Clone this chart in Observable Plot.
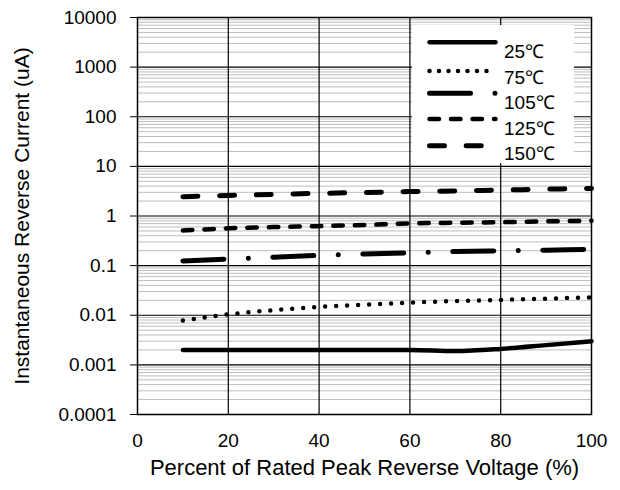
<!DOCTYPE html>
<html><head><meta charset="utf-8">
<script src="https://cdn.jsdelivr.net/npm/d3@7"></script>
<script src="https://cdn.jsdelivr.net/npm/@observablehq/plot@0.6"></script>
<style>
body{margin:0;background:#fff;font-family:"Liberation Sans",Arial,sans-serif;}
#wrap{position:relative;width:620px;height:490px;}
#wrap svg text{font-family:"Liberation Sans",Arial,sans-serif;}
#legend{position:absolute;left:0;top:0;pointer-events:none;}
</style></head><body><div id="wrap"></div>
<script>
const voltage = [10,20,30,40,50,60,70,80,90,100];
const i25  = [0.002,0.002,0.002,0.002,0.002,0.002,0.0019,0.0021,0.0025,0.003];
const i75  = [0.0078,0.0104,0.0127,0.0147,0.0163,0.018,0.0193,0.0204,0.0216,0.0228];
const i105 = [0.124,0.136,0.148,0.161,0.172,0.182,0.192,0.198,0.205,0.212];
const i125 = [0.51,0.565,0.6,0.625,0.66,0.71,0.73,0.75,0.78,0.8];
const i150 = [2.44,2.6,2.72,2.86,2.98,3.1,3.2,3.33,3.47,3.6];
const seriesNames = ["25℃","75℃","105℃","125℃","150℃"];
const seriesValues = [i25,i75,i105,i125,i150];
const seriesDash = [null,"0 11","41 24.5 0 24.5","9.5 12","15 21.7"];
const legendDash = [null,"0 9.5","41 24.5 0 24.5","9.5 12","15 21.7"];
const seriesWidth = [4.5,4.5,5,4.5,5];
const yTicks = [0.0001,0.001,0.01,0.1,1,10,100,1000,10000];
const xTicks = [0,20,40,60,80,100];
const gridX = [20,40,60,80];
const xTitle = "Percent of Rated Peak Reverse Voltage (%)";
const yTitle = "Instantaneous Reverse Current (uA)";
const minorY = yTicks.slice(0,-1).flatMap(d => [2,3,4,5,6,7,8,9].map(k => k*d));

const lineMarks = seriesValues.map((vals,s) => Plot.line(
  voltage.map((v,i) => ({v, c: vals[i]})),
  {x: "v", y: "c", stroke: "#000", strokeWidth: seriesWidth[s], strokeLinecap: "round",
   strokeLinejoin: "round", strokeDasharray: seriesDash[s] || undefined, curve: "monotone-x"}
));

const font = '"Liberation Sans", Arial, sans-serif';
const plot = Plot.plot({
  width: 620, height: 490,
  marginLeft: 137, marginRight: 29, marginTop: 17, marginBottom: 76,
  style: {fontFamily: font, fontSize: "19px", color: "#000", background: "#fff"},
  x: {domain: [0,100]},
  y: {type: "log", domain: [0.0001, 10000]},
  marks: [
    Plot.ruleY(minorY, {stroke: "#bdbdbd", strokeWidth: 1}),
    Plot.ruleY(yTicks, {stroke: "#000", strokeWidth: 1.2}),
    Plot.ruleX(gridX, {stroke: "#000", strokeWidth: 1.2}),
    ...lineMarks,
    Plot.frame({stroke: "#000", strokeWidth: 1.5}),
    Plot.axisY({ticks: yTicks, tickFormat: d => String(d), tickSize: 7, tickPadding: 14, fontSize: 19, label: null}),
    Plot.axisX({ticks: xTicks, tickSize: 0, tickPadding: 19, fontSize: 19, label: null}),
    Plot.text([yTitle], {text: d => d, frameAnchor: "left", rotate: -90, dx: -115, fontSize: 21,
      textAnchor: "middle", lineAnchor: "middle", fill: "#000"}),
    Plot.text([xTitle], {text: d => d, frameAnchor: "bottom", dy: 53, fontSize: 22,
      textAnchor: "middle", lineAnchor: "middle", fill: "#000"})
  ]
});
const wrap = document.getElementById("wrap");
wrap.appendChild(plot);

// legend overlay
const lg = d3.select(wrap).append("svg").attr("id","legend").attr("width",620).attr("height",490);
lg.append("rect").attr("x",412).attr("y",25).attr("width",162).attr("height",138).attr("fill","#fff");
const lineY = [42.3,71,93.3,119,145.7];
const textY = [51,77,102.5,128,153.5];
seriesNames.forEach((name,s) => {
  const l = lg.append("line").attr("x1",429.5).attr("x2",495.5).attr("y1",lineY[s]).attr("y2",lineY[s])
    .attr("stroke","#000").attr("stroke-width",seriesWidth[s]).attr("stroke-linecap","round");
  if (legendDash[s]) l.attr("stroke-dasharray",legendDash[s]);
  lg.append("text").attr("x",504).attr("y",textY[s]).attr("dominant-baseline","central")
    .style("font-family",font).style("font-size","19px").attr("fill","#000").text(name);
});
</script></body></html>
